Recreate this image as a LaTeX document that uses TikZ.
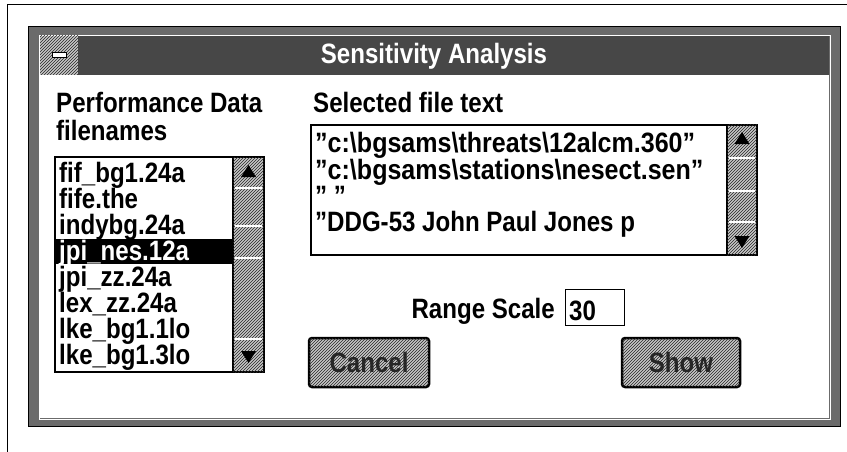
\documentclass[tikz,border=0pt]{standalone}
\usepackage{fontspec}
\setmainfont{Liberation Sans}[FakeStretch=0.86]
\usetikzlibrary{patterns}
\definecolor{framegray}{gray}{0.42}
\definecolor{titlegray}{gray}{0.28}
\definecolor{hatchgray}{gray}{0.78}
\tikzset{
  lbl/.style={font=\fontsize{28}{30}\bfseries\selectfont, inner sep=0pt, anchor=base west},
  hatch/.style={fill=hatchgray, postaction={pattern=north east lines, pattern color=black!85}},
  btn/.style={draw, line width=2.5pt, rounded corners=3pt, hatch},
  arrowtip/.style={fill=black},
}
\begin{document}
\begin{tikzpicture}[x=1pt,y=-1pt]
\useasboundingbox (0,0) rectangle (847,452);
\draw[line width=1pt] (7,452) -- (7,5) -- (847,5);
\filldraw[framegray, draw=black, line width=1pt] (28,27) rectangle (840,426);
\fill[white] (40,75) rectangle (829,418);
\fill[titlegray] (40,36) rectangle (829,75);
\draw[white, line width=0.8pt] (39,35) rectangle (830,419);
\fill[hatch] (40,36) rectangle (78,75);
\filldraw[fill=white, draw=black, line width=1pt] (52,53) rectangle (66,58);
\node[lbl, anchor=base, text=white] (title) at (434,64) {Sensitivity Analysis};
\node[lbl] (perf) at (56,113) {Performance Data};
\node[lbl] (fnames) at (56,140) {filenames};
\node[lbl] (seltext) at (313,113) {Selected file text};
\draw[line width=1.2pt, fill=white] (55,157) rectangle (264,372);
\fill (55,239) rectangle (233,264);
\node[lbl] (f1) at (59,182) {fif\_bg1.24a};
\node[lbl] (f2) at (59,208) {fife.the};
\node[lbl] (f3) at (59,234) {indybg.24a};
\node[lbl, text=white] (f4) at (59,260) {jpi\_nes.12a};
\node[lbl] (f5) at (59,286) {jpi\_zz.24a};
\node[lbl] (f6) at (59,312) {lex\_zz.24a};
\node[lbl] (f7) at (59,338) {lke\_bg1.1lo};
\node[lbl] (f8) at (59,364) {lke\_bg1.3lo};
\draw[hatch, line width=1.2pt] (233,157) rectangle (264,372);
\draw[white, line width=1.5pt] (235,188) -- (262,188) (235,226) -- (262,226) (235,258) -- (262,258) (235,339) -- (262,339);
\fill[arrowtip] (248.5,165) -- (256,177) -- (241,177) -- cycle;
\fill[arrowtip] (248.5,363) -- (256,351) -- (241,351) -- cycle;
\draw[line width=1.2pt, fill=white] (311,125) rectangle (757,255);
\node[lbl] (t1) at (315,153) {\scalebox{1.04}[1]{"c:\textbackslash bgsams\textbackslash threats\textbackslash 12alcm.360"}};
\node[lbl] (t2) at (315,179) {\scalebox{1.04}[1]{"c:\textbackslash bgsams\textbackslash stations\textbackslash nesect.sen"}};
\node[lbl] (t3) at (315,205) {" "};
\node[lbl] (t4) at (315,231) {"DDG-53 John Paul Jones p};
\draw[hatch, line width=1.2pt] (727,125) rectangle (757,255);
\draw[white, line width=1.5pt] (729,158) -- (755,158) (729,191) -- (755,191) (729,222) -- (755,222);
\fill[arrowtip] (742,132) -- (749.5,144) -- (734.5,144) -- cycle;
\fill[arrowtip] (742,248) -- (749.5,236) -- (734.5,236) -- cycle;
\node[lbl, anchor=base east] (rscale) at (555,318) {Range Scale};
\draw[line width=1pt, fill=white] (565,289) rectangle (624,325);
\node[lbl] (rval) at (569,320) {30};
\draw[btn] (309,338) rectangle (429,387);
\node[lbl, anchor=center, text=black!85] (cancel) at (369,362.5) {Cancel};
\draw[btn] (622,338) rectangle (740,387);
\node[lbl, anchor=center, text=black!85] (show) at (681,362.5) {Show};
\end{tikzpicture}
\end{document}
